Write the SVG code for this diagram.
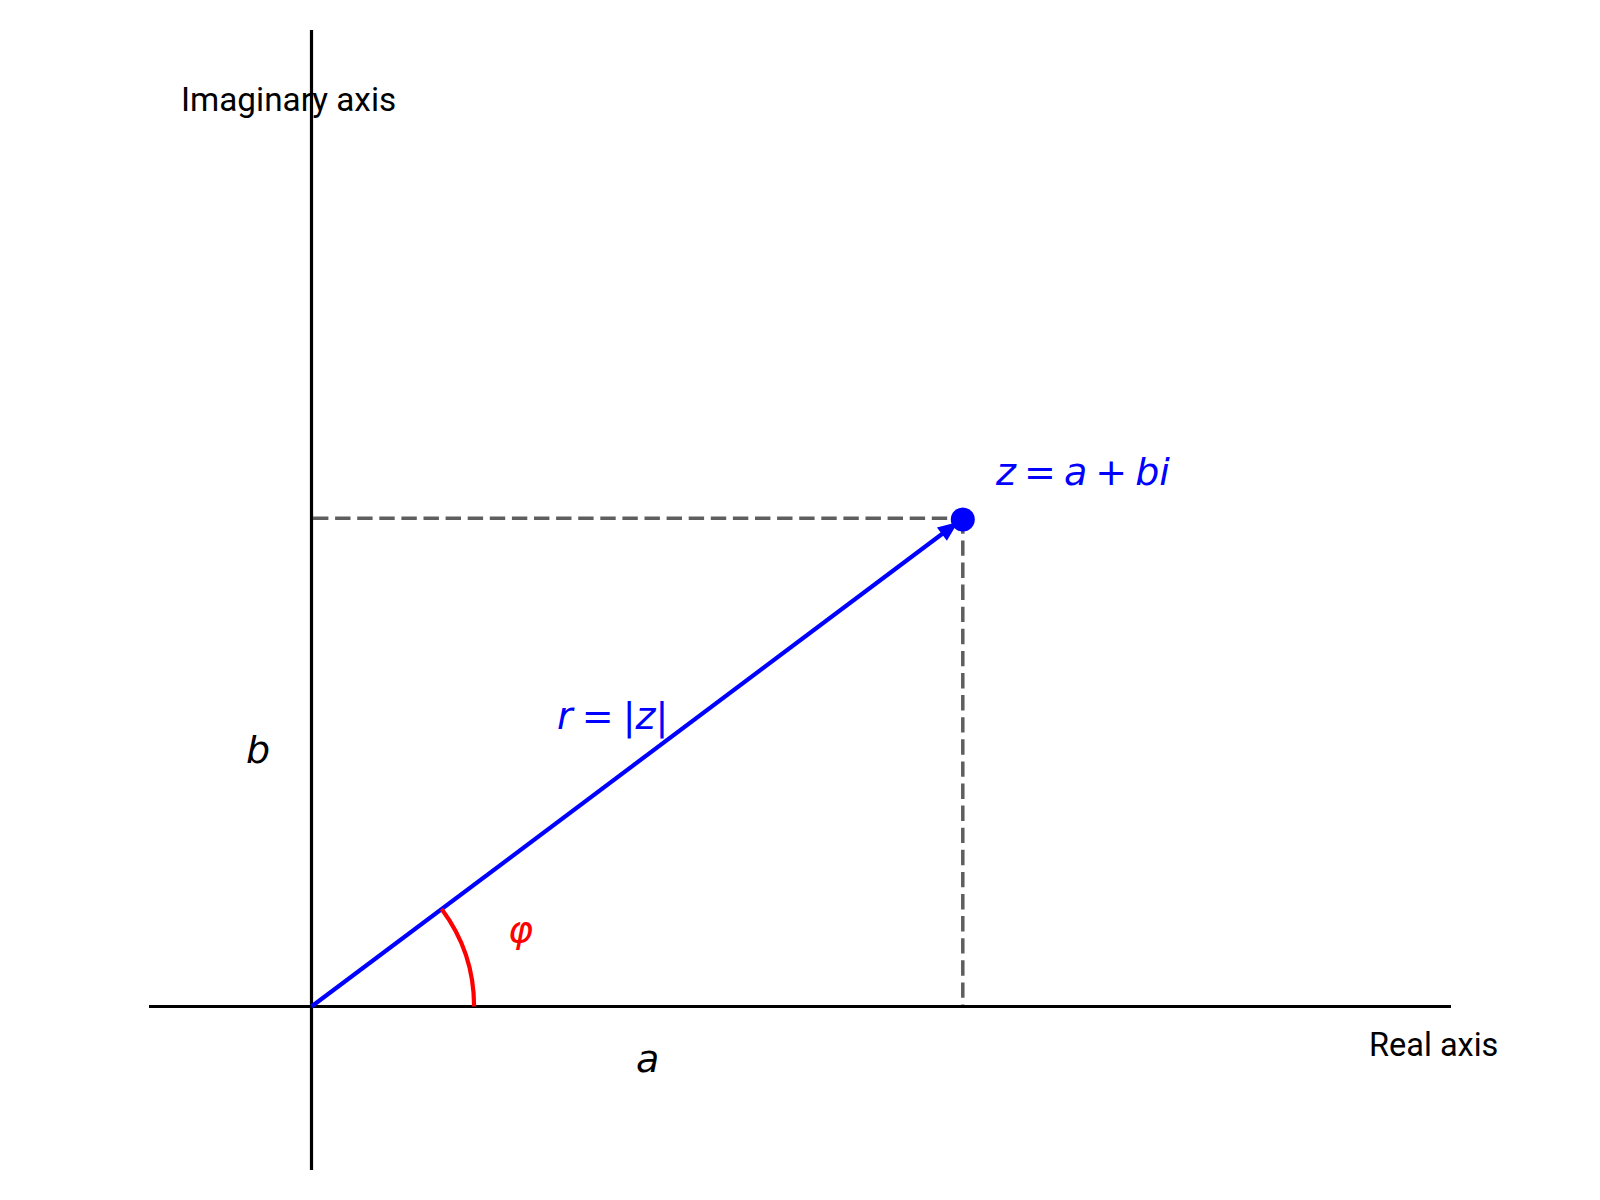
<svg xmlns="http://www.w3.org/2000/svg" width="1600" height="1200" viewBox="0 0 1600 1200">
<style>
.axis{stroke:#000;stroke-width:3.2;fill:none}
.dash{stroke:#5e5e5e;stroke-width:3.5;stroke-dasharray:15.4 6.7;fill:none}
.lbl{font-family:Roboto,"Liberation Sans",sans-serif;font-size:32.5px;fill:#000}
.math{font-family:"DejaVu Sans",sans-serif;font-style:oblique;font-size:38px}
.up{font-style:normal}
</style>
<rect width="1600" height="1200" fill="#fff"/>
<g id="axes">
<line class="axis" x1="149" y1="1006.5" x2="1451" y2="1006.5"/>
<line class="axis" x1="311.5" y1="30" x2="311.5" y2="1170"/>
</g>
<g id="guides">
<line class="dash" x1="313" y1="518.3" x2="962.8" y2="518.3"/>
<line class="dash" x1="962.8" y1="518.3" x2="962.8" y2="1005"/>
</g>
<g id="connectors">
<line x1="311.5" y1="1006.5" x2="943" y2="533.3" stroke="#0000ff" stroke-width="4.2"/>
<polygon points="956,523.5 946.8,539 938.6,528" fill="#0000ff" stroke="#0000ff" stroke-width="2" stroke-linejoin="miter"/>
<path d="M474.1,1006.5 A162.6,162.6 0 0 0 441.6,909" fill="none" stroke="#ff0000" stroke-width="4.2"/>
</g>
<g id="point">
<circle cx="962.8" cy="519.5" r="12" fill="#0000ff"/>
</g>
<g id="labels">
<text class="lbl" x="181" y="110.5" style="font-size:33.3px">Imaginary axis</text>
<text class="lbl" x="1369" y="1056">Real axis</text>
<text class="math" x="996" y="485" fill="#0000ff" word-spacing="-4">z <tspan class="up">=</tspan> a <tspan class="up">+</tspan> bi</text>
<text class="math" x="557" y="729" fill="#0000ff" word-spacing="-3">r <tspan class="up">=</tspan> <tspan class="up">|</tspan>z<tspan class="up">|</tspan></text>
<text class="math" x="508" y="942" fill="#ff0000">φ</text>
<text class="math" x="246" y="762.7" fill="#000">b</text>
<text class="math" x="636" y="1072" fill="#000">a</text>
</g>
</svg>
